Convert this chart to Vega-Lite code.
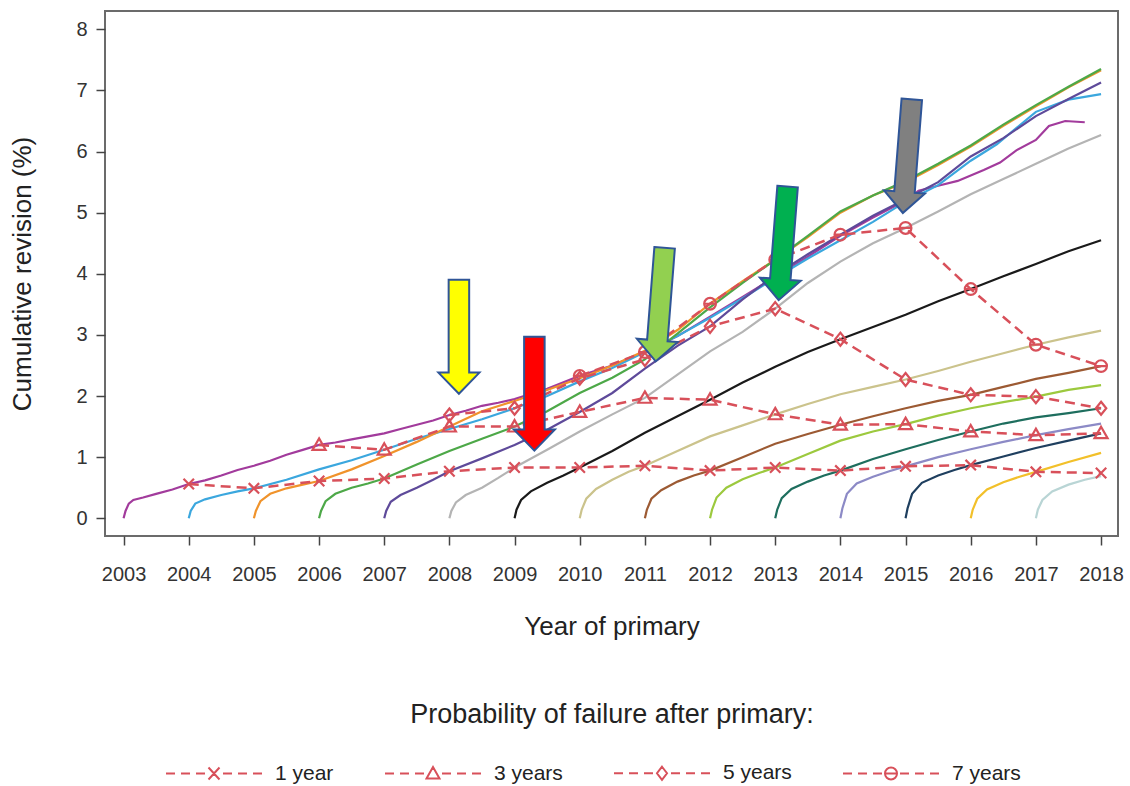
{
  "$schema": "https://vega.github.io/schema/vega-lite/v6.json",
  "autosize": {"type": "none"},
  "width": 1013,
  "height": 525,
  "padding": {"left": 105, "top": 11, "right": 12, "bottom": 250},
  "background": "white",
  "config": {
    "view": {"stroke": "#6b6b6b", "strokeWidth": 2},
    "axis": {"grid": false, "domain": false, "tickColor": "#444", "tickWidth": 1.5, "tickSize": 9, "labelColor": "#333", "titleColor": "#222", "labelFont": "Liberation Sans, sans-serif", "labelFontSize": 20, "titleFont": "Liberation Sans, sans-serif", "titleFontSize": 26, "titleFontWeight": "normal"}
  },
  "datasets": {
    "curves": [
      {"c":"2003","x":2003,"y":0},{"c":"2003","x":2003.03,"y":0.12},{"c":"2003","x":2003.08,"y":0.24},{"c":"2003","x":2003.15,"y":0.30},{"c":"2003","x":2003.3,"y":0.34},{"c":"2003","x":2003.5,"y":0.40},{"c":"2003","x":2003.75,"y":0.47},{"c":"2003","x":2004,"y":0.56},{"c":"2003","x":2004.25,"y":0.62},{"c":"2003","x":2004.5,"y":0.70},{"c":"2003","x":2004.75,"y":0.79},{"c":"2003","x":2005,"y":0.86},{"c":"2003","x":2005.25,"y":0.94},{"c":"2003","x":2005.5,"y":1.04},{"c":"2003","x":2005.75,"y":1.12},{"c":"2003","x":2006,"y":1.20},{"c":"2003","x":2006.25,"y":1.24},{"c":"2003","x":2006.5,"y":1.29},{"c":"2003","x":2006.75,"y":1.34},{"c":"2003","x":2007,"y":1.39},{"c":"2003","x":2007.25,"y":1.46},{"c":"2003","x":2007.5,"y":1.53},{"c":"2003","x":2007.75,"y":1.60},{"c":"2003","x":2008,"y":1.69},{"c":"2003","x":2008.25,"y":1.76},{"c":"2003","x":2008.5,"y":1.84},{"c":"2003","x":2008.75,"y":1.89},{"c":"2003","x":2009,"y":1.95},{"c":"2003","x":2009.5,"y":2.12},{"c":"2003","x":2010,"y":2.33},{"c":"2003","x":2010.5,"y":2.50},{"c":"2003","x":2011,"y":2.72},{"c":"2003","x":2011.5,"y":2.98},{"c":"2003","x":2012,"y":3.30},{"c":"2003","x":2012.5,"y":3.62},{"c":"2003","x":2013,"y":3.95},{"c":"2003","x":2013.5,"y":4.28},{"c":"2003","x":2014,"y":4.62},{"c":"2003","x":2014.5,"y":4.92},{"c":"2003","x":2015,"y":5.20},{"c":"2003","x":2015.2,"y":5.36},{"c":"2003","x":2015.5,"y":5.44},{"c":"2003","x":2015.8,"y":5.52},{"c":"2003","x":2016.2,"y":5.70},{"c":"2003","x":2016.45,"y":5.82},{"c":"2003","x":2016.7,"y":6.02},{"c":"2003","x":2017,"y":6.19},{"c":"2003","x":2017.2,"y":6.42},{"c":"2003","x":2017.45,"y":6.50},{"c":"2003","x":2017.75,"y":6.48},
      {"c":"2004","x":2004,"y":0},{"c":"2004","x":2004.03,"y":0.12},{"c":"2004","x":2004.1,"y":0.24},{"c":"2004","x":2004.25,"y":0.31},{"c":"2004","x":2004.5,"y":0.38},{"c":"2004","x":2004.75,"y":0.44},{"c":"2004","x":2005,"y":0.49},{"c":"2004","x":2005.5,"y":0.63},{"c":"2004","x":2006,"y":0.80},{"c":"2004","x":2006.5,"y":0.95},{"c":"2004","x":2007,"y":1.12},{"c":"2004","x":2007.5,"y":1.30},{"c":"2004","x":2008,"y":1.46},{"c":"2004","x":2008.5,"y":1.62},{"c":"2004","x":2009,"y":1.80},{"c":"2004","x":2009.5,"y":2.00},{"c":"2004","x":2010,"y":2.24},{"c":"2004","x":2010.5,"y":2.46},{"c":"2004","x":2011,"y":2.72},{"c":"2004","x":2011.5,"y":2.98},{"c":"2004","x":2012,"y":3.28},{"c":"2004","x":2012.5,"y":3.60},{"c":"2004","x":2013,"y":3.93},{"c":"2004","x":2013.5,"y":4.25},{"c":"2004","x":2014,"y":4.55},{"c":"2004","x":2014.5,"y":4.85},{"c":"2004","x":2015,"y":5.18},{"c":"2004","x":2015.5,"y":5.45},{"c":"2004","x":2016,"y":5.85},{"c":"2004","x":2016.4,"y":6.12},{"c":"2004","x":2017,"y":6.65},{"c":"2004","x":2017.5,"y":6.85},{"c":"2004","x":2018,"y":6.94},
      {"c":"2005","x":2005,"y":0},{"c":"2005","x":2005.03,"y":0.12},{"c":"2005","x":2005.1,"y":0.28},{"c":"2005","x":2005.25,"y":0.40},{"c":"2005","x":2005.5,"y":0.49},{"c":"2005","x":2005.75,"y":0.55},{"c":"2005","x":2006,"y":0.61},{"c":"2005","x":2006.5,"y":0.80},{"c":"2005","x":2007,"y":1.02},{"c":"2005","x":2007.5,"y":1.25},{"c":"2005","x":2008,"y":1.50},{"c":"2005","x":2008.5,"y":1.75},{"c":"2005","x":2009,"y":1.92},{"c":"2005","x":2009.5,"y":2.10},{"c":"2005","x":2010,"y":2.29},{"c":"2005","x":2010.5,"y":2.50},{"c":"2005","x":2011,"y":2.74},{"c":"2005","x":2011.5,"y":3.08},{"c":"2005","x":2012,"y":3.51},{"c":"2005","x":2012.5,"y":3.88},{"c":"2005","x":2013,"y":4.23},{"c":"2005","x":2013.5,"y":4.60},{"c":"2005","x":2014,"y":5.00},{"c":"2005","x":2014.5,"y":5.28},{"c":"2005","x":2015,"y":5.50},{"c":"2005","x":2015.5,"y":5.78},{"c":"2005","x":2016,"y":6.08},{"c":"2005","x":2016.5,"y":6.42},{"c":"2005","x":2017,"y":6.74},{"c":"2005","x":2017.5,"y":7.05},{"c":"2005","x":2018,"y":7.33},
      {"c":"2006","x":2006,"y":0},{"c":"2006","x":2006.03,"y":0.12},{"c":"2006","x":2006.1,"y":0.28},{"c":"2006","x":2006.25,"y":0.40},{"c":"2006","x":2006.5,"y":0.50},{"c":"2006","x":2006.75,"y":0.57},{"c":"2006","x":2007,"y":0.65},{"c":"2006","x":2007.5,"y":0.88},{"c":"2006","x":2008,"y":1.10},{"c":"2006","x":2008.5,"y":1.30},{"c":"2006","x":2009,"y":1.50},{"c":"2006","x":2009.5,"y":1.75},{"c":"2006","x":2010,"y":2.05},{"c":"2006","x":2010.5,"y":2.30},{"c":"2006","x":2011,"y":2.60},{"c":"2006","x":2011.5,"y":3.02},{"c":"2006","x":2012,"y":3.45},{"c":"2006","x":2012.5,"y":3.85},{"c":"2006","x":2013,"y":4.23},{"c":"2006","x":2013.5,"y":4.62},{"c":"2006","x":2014,"y":5.02},{"c":"2006","x":2014.5,"y":5.28},{"c":"2006","x":2015,"y":5.52},{"c":"2006","x":2015.5,"y":5.80},{"c":"2006","x":2016,"y":6.10},{"c":"2006","x":2016.5,"y":6.44},{"c":"2006","x":2017,"y":6.76},{"c":"2006","x":2017.5,"y":7.06},{"c":"2006","x":2018,"y":7.35},
      {"c":"2007","x":2007,"y":0},{"c":"2007","x":2007.03,"y":0.12},{"c":"2007","x":2007.1,"y":0.27},{"c":"2007","x":2007.25,"y":0.38},{"c":"2007","x":2007.5,"y":0.50},{"c":"2007","x":2007.75,"y":0.63},{"c":"2007","x":2008,"y":0.77},{"c":"2007","x":2008.5,"y":0.98},{"c":"2007","x":2009,"y":1.20},{"c":"2007","x":2009.5,"y":1.45},{"c":"2007","x":2010,"y":1.74},{"c":"2007","x":2010.5,"y":2.05},{"c":"2007","x":2011,"y":2.45},{"c":"2007","x":2011.5,"y":2.82},{"c":"2007","x":2012,"y":3.14},{"c":"2007","x":2012.5,"y":3.58},{"c":"2007","x":2013,"y":3.98},{"c":"2007","x":2013.5,"y":4.32},{"c":"2007","x":2014,"y":4.64},{"c":"2007","x":2014.5,"y":4.95},{"c":"2007","x":2015,"y":5.22},{"c":"2007","x":2015.5,"y":5.50},{"c":"2007","x":2016,"y":5.92},{"c":"2007","x":2016.5,"y":6.22},{"c":"2007","x":2017,"y":6.58},{"c":"2007","x":2017.5,"y":6.86},{"c":"2007","x":2018,"y":7.13},
      {"c":"2008","x":2008,"y":0},{"c":"2008","x":2008.03,"y":0.12},{"c":"2008","x":2008.1,"y":0.26},{"c":"2008","x":2008.25,"y":0.38},{"c":"2008","x":2008.5,"y":0.50},{"c":"2008","x":2008.75,"y":0.66},{"c":"2008","x":2009,"y":0.83},{"c":"2008","x":2009.5,"y":1.12},{"c":"2008","x":2010,"y":1.42},{"c":"2008","x":2010.5,"y":1.70},{"c":"2008","x":2011,"y":1.97},{"c":"2008","x":2011.5,"y":2.35},{"c":"2008","x":2012,"y":2.73},{"c":"2008","x":2012.5,"y":3.05},{"c":"2008","x":2013,"y":3.43},{"c":"2008","x":2013.5,"y":3.85},{"c":"2008","x":2014,"y":4.20},{"c":"2008","x":2014.5,"y":4.50},{"c":"2008","x":2015,"y":4.75},{"c":"2008","x":2015.5,"y":5.02},{"c":"2008","x":2016,"y":5.30},{"c":"2008","x":2016.5,"y":5.55},{"c":"2008","x":2017,"y":5.80},{"c":"2008","x":2017.5,"y":6.05},{"c":"2008","x":2018,"y":6.27},
      {"c":"2009","x":2009,"y":0},{"c":"2009","x":2009.03,"y":0.14},{"c":"2009","x":2009.1,"y":0.30},{"c":"2009","x":2009.25,"y":0.44},{"c":"2009","x":2009.5,"y":0.58},{"c":"2009","x":2009.75,"y":0.70},{"c":"2009","x":2010,"y":0.83},{"c":"2009","x":2010.5,"y":1.10},{"c":"2009","x":2011,"y":1.40},{"c":"2009","x":2011.5,"y":1.67},{"c":"2009","x":2012,"y":1.94},{"c":"2009","x":2012.5,"y":2.22},{"c":"2009","x":2013,"y":2.48},{"c":"2009","x":2013.5,"y":2.72},{"c":"2009","x":2014,"y":2.93},{"c":"2009","x":2014.5,"y":3.13},{"c":"2009","x":2015,"y":3.33},{"c":"2009","x":2015.5,"y":3.55},{"c":"2009","x":2016,"y":3.75},{"c":"2009","x":2016.5,"y":3.96},{"c":"2009","x":2017,"y":4.16},{"c":"2009","x":2017.5,"y":4.37},{"c":"2009","x":2018,"y":4.55},
      {"c":"2010","x":2010,"y":0},{"c":"2010","x":2010.03,"y":0.14},{"c":"2010","x":2010.1,"y":0.32},{"c":"2010","x":2010.25,"y":0.48},{"c":"2010","x":2010.5,"y":0.63},{"c":"2010","x":2010.75,"y":0.76},{"c":"2010","x":2011,"y":0.86},{"c":"2010","x":2011.5,"y":1.10},{"c":"2010","x":2012,"y":1.34},{"c":"2010","x":2012.5,"y":1.52},{"c":"2010","x":2013,"y":1.70},{"c":"2010","x":2013.5,"y":1.87},{"c":"2010","x":2014,"y":2.03},{"c":"2010","x":2014.5,"y":2.15},{"c":"2010","x":2015,"y":2.27},{"c":"2010","x":2015.5,"y":2.41},{"c":"2010","x":2016,"y":2.56},{"c":"2010","x":2016.5,"y":2.70},{"c":"2010","x":2017,"y":2.84},{"c":"2010","x":2017.5,"y":2.96},{"c":"2010","x":2018,"y":3.07},
      {"c":"2011","x":2011,"y":0},{"c":"2011","x":2011.03,"y":0.14},{"c":"2011","x":2011.1,"y":0.32},{"c":"2011","x":2011.25,"y":0.46},{"c":"2011","x":2011.5,"y":0.60},{"c":"2011","x":2011.75,"y":0.70},{"c":"2011","x":2012,"y":0.78},{"c":"2011","x":2012.5,"y":1.00},{"c":"2011","x":2013,"y":1.22},{"c":"2011","x":2013.5,"y":1.38},{"c":"2011","x":2014,"y":1.53},{"c":"2011","x":2014.5,"y":1.67},{"c":"2011","x":2015,"y":1.80},{"c":"2011","x":2015.5,"y":1.92},{"c":"2011","x":2016,"y":2.02},{"c":"2011","x":2016.5,"y":2.15},{"c":"2011","x":2017,"y":2.28},{"c":"2011","x":2017.5,"y":2.38},{"c":"2011","x":2018,"y":2.49},
      {"c":"2012","x":2012,"y":0},{"c":"2012","x":2012.03,"y":0.14},{"c":"2012","x":2012.1,"y":0.34},{"c":"2012","x":2012.25,"y":0.50},{"c":"2012","x":2012.5,"y":0.64},{"c":"2012","x":2012.75,"y":0.74},{"c":"2012","x":2013,"y":0.83},{"c":"2012","x":2013.5,"y":1.05},{"c":"2012","x":2014,"y":1.27},{"c":"2012","x":2014.5,"y":1.42},{"c":"2012","x":2015,"y":1.54},{"c":"2012","x":2015.5,"y":1.68},{"c":"2012","x":2016,"y":1.80},{"c":"2012","x":2016.5,"y":1.90},{"c":"2012","x":2017,"y":1.99},{"c":"2012","x":2017.5,"y":2.10},{"c":"2012","x":2018,"y":2.18},
      {"c":"2013","x":2013,"y":0},{"c":"2013","x":2013.03,"y":0.14},{"c":"2013","x":2013.1,"y":0.33},{"c":"2013","x":2013.25,"y":0.48},{"c":"2013","x":2013.5,"y":0.60},{"c":"2013","x":2013.75,"y":0.70},{"c":"2013","x":2014,"y":0.78},{"c":"2013","x":2014.5,"y":0.97},{"c":"2013","x":2015,"y":1.13},{"c":"2013","x":2015.5,"y":1.28},{"c":"2013","x":2016,"y":1.42},{"c":"2013","x":2016.5,"y":1.55},{"c":"2013","x":2017,"y":1.65},{"c":"2013","x":2017.5,"y":1.72},{"c":"2013","x":2018,"y":1.80},
      {"c":"2014","x":2014,"y":0},{"c":"2014","x":2014.03,"y":0.16},{"c":"2014","x":2014.1,"y":0.40},{"c":"2014","x":2014.25,"y":0.57},{"c":"2014","x":2014.5,"y":0.68},{"c":"2014","x":2014.75,"y":0.77},{"c":"2014","x":2015,"y":0.85},{"c":"2014","x":2015.5,"y":1.00},{"c":"2014","x":2016,"y":1.13},{"c":"2014","x":2016.5,"y":1.25},{"c":"2014","x":2017,"y":1.36},{"c":"2014","x":2017.5,"y":1.46},{"c":"2014","x":2018,"y":1.55},
      {"c":"2015","x":2015,"y":0},{"c":"2015","x":2015.03,"y":0.16},{"c":"2015","x":2015.1,"y":0.40},{"c":"2015","x":2015.25,"y":0.58},{"c":"2015","x":2015.5,"y":0.70},{"c":"2015","x":2015.75,"y":0.79},{"c":"2015","x":2016,"y":0.87},{"c":"2015","x":2016.5,"y":1.01},{"c":"2015","x":2017,"y":1.15},{"c":"2015","x":2017.5,"y":1.27},{"c":"2015","x":2018,"y":1.39},
      {"c":"2016","x":2016,"y":0},{"c":"2016","x":2016.03,"y":0.14},{"c":"2016","x":2016.1,"y":0.32},{"c":"2016","x":2016.25,"y":0.47},{"c":"2016","x":2016.5,"y":0.59},{"c":"2016","x":2016.75,"y":0.68},{"c":"2016","x":2017,"y":0.76},{"c":"2016","x":2017.5,"y":0.92},{"c":"2016","x":2018,"y":1.07},
      {"c":"2017","x":2017,"y":0},{"c":"2017","x":2017.03,"y":0.14},{"c":"2017","x":2017.1,"y":0.30},{"c":"2017","x":2017.25,"y":0.44},{"c":"2017","x":2017.5,"y":0.55},{"c":"2017","x":2017.75,"y":0.63},{"c":"2017","x":2018,"y":0.69}
    ],
    "prob": [
      {"s":"1 year","x":2004,"y":0.56},{"s":"1 year","x":2005,"y":0.49},{"s":"1 year","x":2006,"y":0.61},{"s":"1 year","x":2007,"y":0.65},{"s":"1 year","x":2008,"y":0.77},{"s":"1 year","x":2009,"y":0.83},{"s":"1 year","x":2010,"y":0.83},{"s":"1 year","x":2011,"y":0.86},{"s":"1 year","x":2012,"y":0.78},{"s":"1 year","x":2013,"y":0.83},{"s":"1 year","x":2014,"y":0.78},{"s":"1 year","x":2015,"y":0.85},{"s":"1 year","x":2016,"y":0.87},{"s":"1 year","x":2017,"y":0.76},{"s":"1 year","x":2018,"y":0.74},
      {"s":"3 years","x":2006,"y":1.20},{"s":"3 years","x":2007,"y":1.12},{"s":"3 years","x":2008,"y":1.50},{"s":"3 years","x":2009,"y":1.50},{"s":"3 years","x":2010,"y":1.74},{"s":"3 years","x":2011,"y":1.97},{"s":"3 years","x":2012,"y":1.94},{"s":"3 years","x":2013,"y":1.70},{"s":"3 years","x":2014,"y":1.53},{"s":"3 years","x":2015,"y":1.54},{"s":"3 years","x":2016,"y":1.42},{"s":"3 years","x":2017,"y":1.36},{"s":"3 years","x":2018,"y":1.39},
      {"s":"5 years","x":2008,"y":1.69},{"s":"5 years","x":2009,"y":1.80},{"s":"5 years","x":2010,"y":2.29},{"s":"5 years","x":2011,"y":2.60},{"s":"5 years","x":2012,"y":3.14},{"s":"5 years","x":2013,"y":3.43},{"s":"5 years","x":2014,"y":2.93},{"s":"5 years","x":2015,"y":2.27},{"s":"5 years","x":2016,"y":2.02},{"s":"5 years","x":2017,"y":1.99},{"s":"5 years","x":2018,"y":1.80},
      {"s":"7 years","x":2010,"y":2.33},{"s":"7 years","x":2011,"y":2.72},{"s":"7 years","x":2012,"y":3.51},{"s":"7 years","x":2013,"y":4.23},{"s":"7 years","x":2014,"y":4.64},{"s":"7 years","x":2015,"y":4.75},{"s":"7 years","x":2016,"y":3.75},{"s":"7 years","x":2017,"y":2.84},{"s":"7 years","x":2018,"y":2.49}
    ],
    "arrows": [
      {"a":"yellow","x":2008.146,"y":2.971},
      {"a":"red","x":2009.304,"y":2.039},
      {"a":"light green","x":2011.234,"y":3.496},
      {"a":"green","x":2013.121,"y":4.498},
      {"a":"gray","x":2015.027,"y":5.925}
    ]
  },
  "encoding": {
    "x": {"field": "x", "type": "quantitative", "scale": {"domain": [2002.715, 2018.26], "nice": false, "zero": false},
      "axis": {"values": [2003,2004,2005,2006,2007,2008,2009,2010,2011,2012,2013,2014,2015,2016,2017,2018], "format": "d", "labelPadding": 19, "title": "Year of primary", "titlePadding": 29}},
    "y": {"field": "y", "type": "quantitative", "scale": {"domain": [-0.29, 8.3], "nice": false, "zero": false},
      "axis": {"values": [0,1,2,3,4,5,6,7,8], "labelPadding": 9, "title": "Cumulative revision (%)", "titlePadding": 40}}
  },
  "resolve": {"scale": {"shape": "independent"}},
  "layer": [
    {
      "data": {"name": "curves"},
      "mark": {"type": "line", "strokeWidth": 2.2},
      "encoding": {
        "color": {"field": "c", "type": "nominal", "legend": null,
          "scale": {"domain": ["2003","2004","2005","2006","2007","2008","2009","2010","2011","2012","2013","2014","2015","2016","2017"],
            "range": ["#A23B9C","#3BA7DE","#F0932B","#4DA848","#5E4A9A","#B4B4B4","#1A1A1A","#CBC38C","#9C5A33","#9CC93E","#1E6E5E","#8C8AC6","#1F3F5F","#F2C02A","#B9D5D5"]}}
      }
    },
    {
      "data": {"name": "prob"},
      "mark": {"type": "line", "color": "#D8505A", "strokeWidth": 2.5, "strokeDash": [10, 6]},
      "encoding": {"detail": {"field": "s", "type": "nominal"}}
    },
    {
      "data": {"name": "prob"},
      "mark": {"type": "point", "filled": false, "color": "#D8505A", "strokeWidth": 2.2, "size": 170, "opacity": 1},
      "encoding": {
        "shape": {"field": "s", "type": "nominal", "legend": null,
          "scale": {"domain": ["1 year","3 years","5 years","7 years"],
            "range": ["M-0.8,-0.8L0.8,0.8M-0.8,0.8L0.8,-0.8", "M0,-1L1,0.75L-1,0.75Z", "M0,-1L0.8,0L0,1L-0.8,0Z", "M-0.9,0A0.9,0.9,0,1,0,0.9,0A0.9,0.9,0,1,0,-0.9,0ZM-0.9,0L0.9,0"]}}
      }
    },
    {
      "data": {"name": "prob"},
      "mark": {"type": "point", "filled": false, "color": "#D8505A", "strokeWidth": 2, "size": 400, "opacity": 0},
      "encoding": {
        "shape": {"field": "s", "type": "nominal",
          "scale": {"domain": ["1 year","3 years","5 years","7 years"],
            "range": [
              "M-4.8,0L-3.9,0M-3.3,0L-2.4,0M-1.8,0L-0.9,0M0.9,0L1.8,0M2.4,0L3.3,0M3.9,0L4.8,0M-0.55,-0.6L0.55,0.6M-0.55,0.6L0.55,-0.6",
              "M-4.8,0L-3.9,0M-3.3,0L-2.4,0M-1.8,0L-0.9,0M0.9,0L1.8,0M2.4,0L3.3,0M3.9,0L4.8,0M0,-0.65L0.65,0.5L-0.65,0.5Z",
              "M-4.8,0L-3.9,0M-3.3,0L-2.4,0M-1.8,0L-0.9,0M0.9,0L1.8,0M2.4,0L3.3,0M3.9,0L4.8,0M0,-0.65L0.5,0L0,0.65L-0.5,0Z",
              "M-4.8,0L-3.9,0M-3.3,0L-2.4,0M-1.8,0L-0.9,0M0.9,0L1.8,0M2.4,0L3.3,0M3.9,0L4.8,0M-0.6,0A0.6,0.6,0,1,0,0.6,0A0.6,0.6,0,1,0,-0.6,0ZM-0.6,0L0.6,0"
            ]},
          "legend": {
            "title": "Probability of failure after primary:",
            "orient": "none", "legendX": 98, "legendY": 691, "direction": "horizontal",
            "padding": 0,
            "titleFont": "Liberation Sans, sans-serif", "titleFontSize": 27, "titleFontWeight": "normal", "titleColor": "#222",
            "titleAnchor": "middle", "titlePadding": 33, "titleLimit": 1000,
            "labelFont": "Liberation Sans, sans-serif", "labelFontSize": 21, "labelColor": "#222", "labelLimit": 300,
            "labelOffset": 50, "columnPadding": 47, "symbolSize": 400,
            "symbolOpacity": 1, "symbolStrokeColor": "#D8505A", "symbolFillColor": "transparent", "symbolStrokeWidth": 2
          }}
      }
    },
    {
      "data": {"name": "arrows"},
      "transform": [{"filter": "datum.a === 'yellow' || datum.a === 'red'"}],
      "mark": {"type": "point", "filled": true, "opacity": 1, "stroke": "#2F5597", "strokeWidth": 2, "size": 12996, "angle": 0,
        "shape": "M-0.18,-1L0.18,-1L0.18,0.63L0.36,0.63L0,1L-0.36,0.63L-0.18,0.63Z"},
      "encoding": {
        "fill": {"field": "a", "type": "nominal", "legend": null,
          "scale": {"domain": ["yellow","red","light green","green","gray"], "range": ["#FFFF00","#FF0000","#92D050","#00B050","#808080"]}}
      }
    },
    {
      "data": {"name": "arrows"},
      "transform": [{"filter": "datum.a !== 'yellow' && datum.a !== 'red'"}],
      "mark": {"type": "point", "filled": true, "opacity": 1, "stroke": "#2F5597", "strokeWidth": 2, "size": 12996, "angle": 4.5,
        "shape": "M-0.18,-1L0.18,-1L0.18,0.63L0.36,0.63L0,1L-0.36,0.63L-0.18,0.63Z"},
      "encoding": {
        "fill": {"field": "a", "type": "nominal", "legend": null,
          "scale": {"domain": ["yellow","red","light green","green","gray"], "range": ["#FFFF00","#FF0000","#92D050","#00B050","#808080"]}}
      }
    }
  ]
}
